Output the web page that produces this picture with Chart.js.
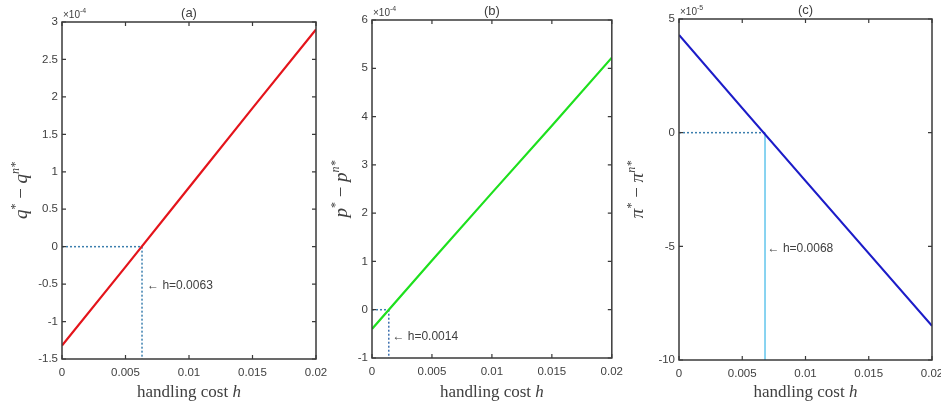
<!DOCTYPE html>
<html lang="en">
<head>
  <meta charset="UTF-8">
  <title>Handling cost gaps</title>
  <script src="https://cdn.jsdelivr.net/npm/chart.js"></script>
  <style>
    body {
      margin: 0;
      background: #fff;
      overflow: hidden;
    }

    .wrap {
      position: relative;
      width: 941px;
      height: 408px;
      overflow: hidden;
    }

    .wrap canvas {
      position: absolute;
      top: 0;
    }
  </style>
</head>
<body>
  <div class="wrap">
    <canvas id="panelA" style="left:0px"></canvas>
    <canvas id="panelB" style="left:300px"></canvas>
    <canvas id="panelC" style="left:610px"></canvas>
  </div>

  <script>
    // handling cost h (x axis)
    const hValues = [0, 0.005, 0.01, 0.015, 0.02];
    const hTicks = [0, 0.005, 0.01, 0.015, 0.02];

    // (a) q* - q^n*, in units of 1e-4
    const gapQ = [-1.32, -0.27, 0.79, 1.85, 2.90];
    const ticksQ = [-1.5, -1, -0.5, 0, 0.5, 1, 1.5, 2, 2.5, 3];
    const zeroQ = 0.0063;

    // (b) p* - p^n*, in units of 1e-4
    const gapP = [-0.40, 1.02, 2.42, 3.81, 5.22];
    const ticksP = [-1, 0, 1, 2, 3, 4, 5, 6];
    const zeroP = 0.0014;

    // (c) pi* - pi^n*, in units of 1e-5
    const gapPi = [4.30, 1.08, -2.12, -5.31, -8.50];
    const ticksPi = [-10, -5, 0, 5];
    const zeroPi = 0.0068;

    const textColor = '#404040';
    const sansFont = '"Liberation Sans", Arial, sans-serif';
    const serifFont = '"Liberation Serif", "Times New Roman", serif';

    // draws a row of text pieces (different fonts / raised parts), centred on 0,0
    function drawPieces(ctx, pieces) {
      let total = 0;
      pieces.forEach(p => { ctx.font = p.font; p.w = ctx.measureText(p.t).width; total += p.w; });
      let cx = -total / 2;
      ctx.textAlign = 'left';
      ctx.textBaseline = 'alphabetic';
      pieces.forEach(p => {
        ctx.font = p.font;
        ctx.fillText(p.t, cx, p.dy || 0);
        cx += p.w;
      });
    }

    const panelPlugin = {
      id: 'panel',
      afterDraw(chart, args, opts) {
        const { ctx, chartArea: a, scales: { x, y } } = chart;
        ctx.save();

        // box round the plot
        ctx.strokeStyle = '#3a3a3a';
        ctx.lineWidth = 1.5;
        ctx.strokeRect(a.left, a.top, a.right - a.left, a.bottom - a.top);

        // tick marks pointing inwards, on all four sides
        ctx.lineWidth = 1.2;
        ctx.beginPath();
        x.ticks.forEach(t => {
          const px = x.getPixelForValue(t.value);
          ctx.moveTo(px, a.bottom); ctx.lineTo(px, a.bottom - 4);
          ctx.moveTo(px, a.top); ctx.lineTo(px, a.top + 4);
        });
        y.ticks.forEach(t => {
          const py = y.getPixelForValue(t.value);
          ctx.moveTo(a.left, py); ctx.lineTo(a.left + 4, py);
          ctx.moveTo(a.right, py); ctx.lineTo(a.right - 4, py);
        });
        ctx.stroke();

        ctx.fillStyle = textColor;

        // panel title
        ctx.font = '13px ' + sansFont;
        ctx.textAlign = 'center';
        ctx.textBaseline = 'middle';
        ctx.fillText(opts.title, (a.left + a.right) / 2, a.top - 9);

        // x10^n exponent
        ctx.textAlign = 'left';
        ctx.textBaseline = 'alphabetic';
        ctx.font = '10px ' + sansFont;
        ctx.fillText('×10', a.left + 1, a.top - 4);
        const w10 = ctx.measureText('×10').width;
        ctx.font = '7px ' + sansFont;
        ctx.fillText(opts.exp, a.left + 1 + w10, a.top - 9);

        // x axis title
        ctx.save();
        ctx.translate((a.left + a.right) / 2, 397);
        drawPieces(ctx, [
          { t: 'handling cost ', font: '17px ' + serifFont },
          { t: 'h', font: 'italic 17px ' + serifFont }
        ]);
        ctx.restore();

        // y axis title
        const s = opts.sym;
        ctx.save();
        ctx.translate(opts.yTitleX, (a.top + a.bottom) / 2);
        ctx.rotate(-Math.PI / 2);
        drawPieces(ctx, [
          { t: s, font: 'italic 19px ' + serifFont, dy: 5 },
          { t: '*', font: '12px ' + serifFont, dy: -3 },
          { t: ' − ', font: '19px ' + serifFont, dy: 5 },
          { t: s, font: 'italic 19px ' + serifFont, dy: 5 },
          { t: 'n*', font: 'italic 12px ' + serifFont, dy: -3 }
        ]);
        ctx.restore();

        // note next to the zero crossing
        ctx.font = '12px ' + sansFont;
        ctx.textAlign = 'left';
        ctx.textBaseline = 'middle';
        ctx.fillText('← h=' + opts.note.toFixed(4), x.getPixelForValue(opts.noteAt[0]), y.getPixelForValue(opts.noteAt[1]));

        ctx.restore();
      }
    };

    function makePanel(id, cfg) {
      const canvas = document.getElementById(id);
      canvas.width = cfg.width;
      canvas.height = 408;
      canvas.style.width = cfg.width + 'px';
      canvas.style.height = '408px';

      const yMin = cfg.yTicks[0];
      const yMax = cfg.yTicks[cfg.yTicks.length - 1];

      return new Chart(canvas.getContext('2d'), {
        type: 'line',
        data: {
          datasets: [
            {
              data: hValues.map((h, i) => ({ x: h, y: cfg.values[i] })),
              borderColor: cfg.color,
              borderWidth: 2.2,
              pointRadius: 0,
              tension: 0
            },
            {
              data: [{ x: 0, y: 0 }, { x: cfg.zero, y: 0 }],
              borderColor: '#3c7fae',
              borderWidth: 1.5,
              borderDash: [2, 2],
              pointRadius: 0
            },
            {
              data: [{ x: cfg.zero, y: 0 }, { x: cfg.zero, y: yMin }],
              borderColor: cfg.vColor,
              borderWidth: cfg.vWidth,
              borderDash: cfg.vDash,
              pointRadius: 0
            }
          ]
        },
        options: {
          responsive: false,
          animation: false,
          layout: {
            padding: { left: 0, top: cfg.top, right: cfg.right, bottom: cfg.bottom }
          },
          plugins: {
            legend: { display: false },
            tooltip: { enabled: false },
            panel: {
              title: cfg.title,
              exp: cfg.exp,
              sym: cfg.sym,
              yTitleX: cfg.yTitleX,
              note: cfg.zero,
              noteAt: cfg.noteAt
            }
          },
          scales: {
            x: {
              type: 'linear',
              min: 0,
              max: 0.02,
              afterBuildTicks: scale => { scale.ticks = hTicks.map(v => ({ value: v })); },
              afterFit: scale => { scale.height = 30; },
              grid: { display: false, drawTicks: false },
              border: { display: false },
              ticks: {
                padding: 7,
                color: textColor,
                font: { family: sansFont, size: 11.5 },
                callback: v => String(+v.toFixed(4))
              }
            },
            y: {
              type: 'linear',
              min: yMin,
              max: yMax,
              afterBuildTicks: scale => { scale.ticks = cfg.yTicks.map(v => ({ value: v })); },
              afterFit: scale => { scale.width = cfg.yWidth; },
              grid: { display: false, drawTicks: false },
              border: { display: false },
              ticks: {
                padding: 4,
                color: textColor,
                font: { family: sansFont, size: 11.5 },
                callback: v => String(v)
              }
            }
          }
        },
        plugins: [panelPlugin]
      });
    }

    makePanel('panelA', {
      width: 335, yWidth: 62, top: 22, right: 19, bottom: 19,
      values: gapQ, yTicks: ticksQ, zero: zeroQ, color: '#e4141b',
      vColor: '#3c7fae', vWidth: 1.5, vDash: [2, 2],
      title: '(a)', exp: '-4', sym: 'q', yTitleX: 22, noteAt: [0.0067, -0.52]
    });

    makePanel('panelB', {
      width: 330, yWidth: 72, top: 20, right: 17, bottom: 20,
      values: gapP, yTicks: ticksP, zero: zeroP, color: '#1ee01e',
      vColor: '#3c6fae', vWidth: 1.5, vDash: [2, 2],
      title: '(b)', exp: '-4', sym: 'p', yTitleX: 42, noteAt: [0.0017, -0.56]
    });

    makePanel('panelC', {
      width: 345, yWidth: 69, top: 19, right: 23, bottom: 18,
      values: gapPi, yTicks: ticksPi, zero: zeroPi, color: '#1c1cc8',
      vColor: '#78cdee', vWidth: 1, vDash: [],
      title: '(c)', exp: '-5', sym: 'π', yTitleX: 28, noteAt: [0.0070, -5.1]
    });
  </script>
</body>
</html>
